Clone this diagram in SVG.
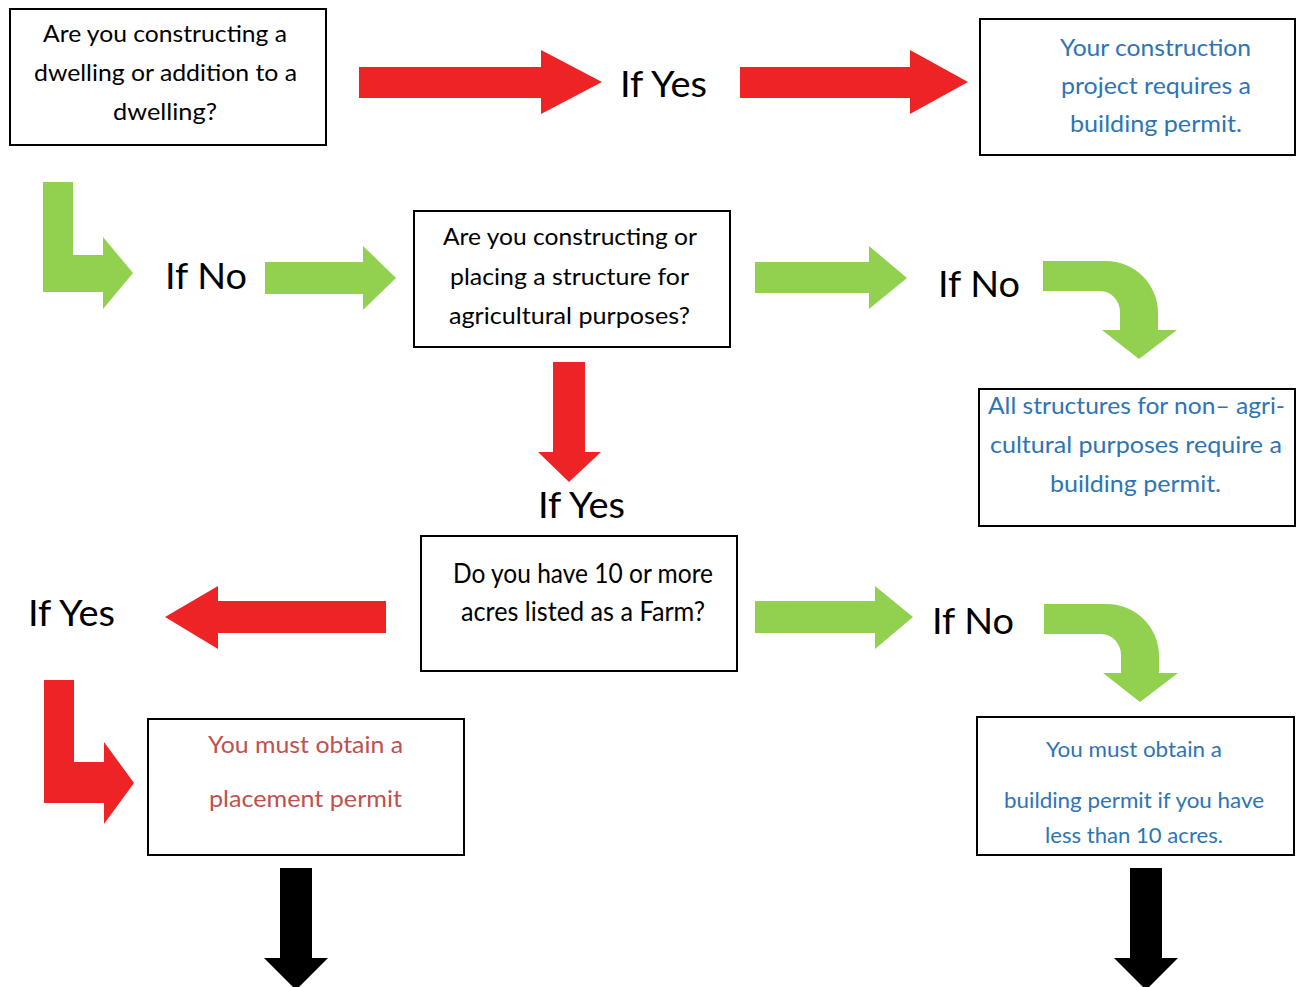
<svg xmlns="http://www.w3.org/2000/svg" width="1300" height="987" viewBox="0 0 1300 987">
<style>
  .box { fill: #ffffff; stroke: #000000; stroke-width: 2; }
  .t { font-family: Lato, "Liberation Sans", sans-serif; }
  .blk { fill: #000000; font-size: 23px; }
  .blue { fill: #2E74B5; font-size: 23px; }
  .redt { fill: #C0504D; font-size: 24px; }
  .lbl { fill: #000000; font-size: 36px; }
  .red { fill: #EE2326; }
  .green { fill: #92D050; }
  .black { fill: #000000; }
</style>
<rect width="1300" height="987" fill="#ffffff"/>

<g id="connectors">
  <path class="red" d="M359,67 H541 V50 L602,82 L541,114 V98 H359 Z"/>
  <path class="red" d="M740,67 H910 V50 L968,82 L910,114 V98 H740 Z"/>
  <path class="green" d="M43,182 H73 V255 H103 V237 L133,273 L103,309 V292 H43 Z"/>
  <path class="green" d="M265,262 H363 V246 L396,278 L363,310 V294 H265 Z"/>
  <path class="green" d="M755,262 H869 V246 L907,278 L869,309 V293 H755 Z"/>
  <path id="curve1" class="green" d="M1043,261 H1106 A52,52 0 0 1 1158,313 V330 H1177 L1139,359 L1102,330 H1120 V312 A20,21 0 0 0 1100,291 H1043 Z"/>
  <path class="green" transform="translate(1,343)" d="M1043,261 H1106 A52,52 0 0 1 1158,313 V330 H1177 L1139,359 L1102,330 H1120 V312 A20,21 0 0 0 1100,291 H1043 Z"/>
  <path class="red" d="M553,362 H585 V452 H601 L569,482 L538,452 H553 Z"/>
  <path class="red" d="M386,601 H218 V586 L165,617 L218,649 V633 H386 Z"/>
  <path class="green" d="M755,601 H875 V586 L913,617 L875,649 V633 H755 Z"/>
  <path class="red" d="M44,680 H74 V762 H104 V742 L134,783 L104,824 V803 H44 Z"/>
  <path class="black" d="M280,868 H312 V958 H328 L296,990 L264,958 H280 Z"/>
  <path class="black" d="M1130,868 H1162 V958 H1178 L1146,990 L1114,958 H1130 Z"/>
</g>

<g id="labels" class="t lbl">
  <text x="620" y="97" textLength="87" lengthAdjust="spacingAndGlyphs">If Yes</text>
  <text x="165" y="289" textLength="82" lengthAdjust="spacingAndGlyphs">If No</text>
  <text x="938" y="297" textLength="82" lengthAdjust="spacingAndGlyphs">If No</text>
  <text x="538" y="518" textLength="87" lengthAdjust="spacingAndGlyphs">If Yes</text>
  <text x="28" y="626" textLength="87" lengthAdjust="spacingAndGlyphs">If Yes</text>
  <text x="932" y="634" textLength="82" lengthAdjust="spacingAndGlyphs">If No</text>
</g>

<g id="q-dwelling">
  <rect class="box" x="10" y="9" width="316" height="136"/>
  <g class="t blk">
    <text x="43" y="42" textLength="244" lengthAdjust="spacingAndGlyphs">Are you constructing a</text>
    <text x="34" y="81" textLength="263" lengthAdjust="spacingAndGlyphs">dwelling or addition to a</text>
    <text x="113" y="120" textLength="104" lengthAdjust="spacingAndGlyphs">dwelling?</text>
  </g>
</g>

<g id="r-building-permit">
  <rect class="box" x="980" y="19" width="315" height="136"/>
  <g class="t blue" style="font-size:24px">
    <text x="1060" y="56" textLength="191" lengthAdjust="spacingAndGlyphs">Your construction</text>
    <text x="1061" y="94" textLength="190" lengthAdjust="spacingAndGlyphs">project requires a</text>
    <text x="1070" y="132" textLength="172" lengthAdjust="spacingAndGlyphs">building permit.</text>
  </g>
</g>

<g id="q-agricultural">
  <rect class="box" x="414" y="211" width="316" height="136"/>
  <g class="t blk">
    <text x="443" y="245" textLength="254" lengthAdjust="spacingAndGlyphs">Are you constructing or</text>
    <text x="450" y="285" textLength="239" lengthAdjust="spacingAndGlyphs">placing a structure for</text>
    <text x="449" y="324" textLength="241" lengthAdjust="spacingAndGlyphs">agricultural purposes?</text>
  </g>
</g>

<g id="r-non-agricultural">
  <rect class="box" x="979" y="389" width="316" height="137"/>
  <g class="t blue">
    <text x="988" y="414" textLength="297" lengthAdjust="spacingAndGlyphs">All structures for non– agri-</text>
    <text x="990" y="453" textLength="292" lengthAdjust="spacingAndGlyphs">cultural purposes require a</text>
    <text x="1050" y="492" textLength="171" lengthAdjust="spacingAndGlyphs">building permit.</text>
  </g>
</g>

<g id="q-farm">
  <rect class="box" x="421" y="536" width="316" height="135"/>
  <g class="t blk" style="font-size:26px">
    <text x="453" y="583" textLength="260" lengthAdjust="spacingAndGlyphs">Do you have 10 or more</text>
    <text x="461" y="621" textLength="244" lengthAdjust="spacingAndGlyphs">acres listed as a Farm?</text>
  </g>
</g>

<g id="r-placement-permit">
  <rect class="box" x="148" y="719" width="316" height="136"/>
  <g class="t redt">
    <text x="208" y="753" textLength="195" lengthAdjust="spacingAndGlyphs">You must obtain a</text>
    <text x="209" y="807" textLength="193" lengthAdjust="spacingAndGlyphs">placement permit</text>
  </g>
</g>

<g id="r-building-under-10">
  <rect class="box" x="977" y="717" width="317" height="138"/>
  <g class="t blue" style="font-size:22px">
    <text x="1046" y="757" textLength="176" lengthAdjust="spacingAndGlyphs">You must obtain a</text>
    <text x="1004" y="808" textLength="260" lengthAdjust="spacingAndGlyphs">building permit if you have</text>
    <text x="1045" y="843" textLength="178" lengthAdjust="spacingAndGlyphs">less than 10 acres.</text>
  </g>
</g>
</svg>
